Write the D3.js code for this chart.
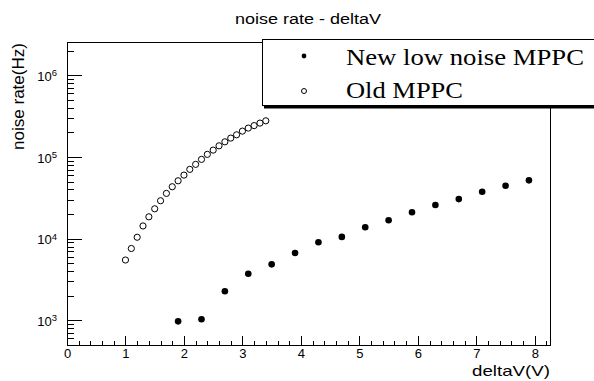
<!DOCTYPE html>
<html>
<head>
<meta charset="utf-8">
<script src="https://cdn.jsdelivr.net/npm/d3@7"></script>
<style>
  html, body { margin: 0; padding: 0; background: #fff; }
  svg { display: block; font-family: "Liberation Sans", Arial, sans-serif; }
  .axis path, .axis line { stroke: #000; stroke-width: 1; shape-rendering: crispEdges; }
  .axis text { font-size: 13px; fill: #000; }
</style>
</head>
<body>
<div id="chart"></div>
<script>
// New low noise MPPC (filled markers)
const newDeltaV = [1.9, 2.3, 2.7, 3.1, 3.5, 3.9, 4.3, 4.7, 5.1, 5.5, 5.9, 6.3, 6.7, 7.1, 7.5, 7.9];
const newRate = [970, 1030, 2270, 3720, 4840, 6660, 9020, 10500, 13800, 16800, 21000, 25800, 30500, 37500, 44400, 51700];

// Old MPPC (open markers)
const oldDeltaV = [1.0, 1.1, 1.2, 1.3, 1.4, 1.5, 1.6, 1.7, 1.8, 1.9, 2.0, 2.1, 2.2, 2.3, 2.4, 2.5, 2.6, 2.7, 2.8, 2.9, 3.0, 3.1, 3.2, 3.3, 3.4];
const oldRate = [5470, 7570, 10400, 14300, 18500, 23200, 29100, 35800, 43200, 51100, 60000, 70500, 81200, 93500,
  107700, 121400, 137000, 153400, 170300, 186900, 207400, 225900, 242300, 260000, 277300];

const xTicks = [0, 1, 2, 3, 4, 5, 6, 7, 8];
const yTickExponents = [3, 4, 5, 6];
const legendLabels = ['New low noise MPPC', 'Old MPPC'];

const W = 594, H = 381;
const frame = { left: 67, top: 42, right: 550, bottom: 345 };

const svg = d3.select('#chart').append('svg')
  .attr('width', W)
  .attr('height', H);

const x = d3.scaleLinear().domain([0, 8.26]).range([frame.left, frame.right]);
const y = d3.scaleLog().domain([498, 2.56e6]).range([frame.bottom, frame.top]);

// frame
svg.append('rect')
  .attr('x', frame.left).attr('y', frame.top)
  .attr('width', frame.right - frame.left).attr('height', frame.bottom - frame.top)
  .attr('fill', 'none').attr('stroke', '#000').attr('stroke-width', 1)
  .attr('shape-rendering', 'crispEdges');

// x axis: majors + minors, ticks pointing inside
const xMinor = d3.range(0, 8.26, 0.2).filter(v => Math.abs(v - Math.round(v)) > 1e-6);
svg.append('g')
  .attr('class', 'axis')
  .attr('transform', `translate(0,${frame.bottom})`)
  .call(d3.axisBottom(x).tickValues(xMinor).tickSizeInner(-4.5).tickSizeOuter(0).tickFormat(''));
const xAxis = svg.append('g')
  .attr('class', 'axis')
  .attr('transform', `translate(0,${frame.bottom})`)
  .call(d3.axisBottom(x).tickValues(xTicks).tickSizeInner(-9).tickSizeOuter(0).tickPadding(0).tickFormat(d3.format('d')));
xAxis.selectAll('text').attr('y', 13).attr('dy', 0).style('font-size', '13px');

// y axis: decades + minors
const yMinor = [];
[2, 3, 4, 5, 6].forEach(e => d3.range(1, 10).forEach(m => {
  const v = m * Math.pow(10, e);
  if (m > 1 && v >= 498 && v <= 2.56e6) yMinor.push(v);
}));
svg.append('g')
  .attr('class', 'axis')
  .attr('transform', `translate(${frame.left},0)`)
  .call(d3.axisLeft(y).tickValues(yMinor).tickSizeInner(-7).tickSizeOuter(0).tickFormat(''));
const yAxis = svg.append('g')
  .attr('class', 'axis')
  .attr('transform', `translate(${frame.left},0)`)
  .call(d3.axisLeft(y).tickValues(yTickExponents.map(e => Math.pow(10, e))).tickSizeInner(-14.5).tickSizeOuter(0).tickPadding(10));
yAxis.selectAll('text').each(function(d) {
  const t = d3.select(this).text('').attr('dy', '0.4em');
  t.append('tspan').text('10');
  t.append('tspan').attr('dy', '-0.5em').style('font-size', '9.5px').text(Math.round(Math.log10(d)));
});

// titles
svg.append('text')
  .attr('x', 308).attr('y', 24)
  .attr('text-anchor', 'middle')
  .attr('textLength', 146).attr('lengthAdjust', 'spacingAndGlyphs')
  .style('font-size', '15.5px')
  .text('noise rate - deltaV');

svg.append('text')
  .attr('x', 550).attr('y', 376)
  .attr('text-anchor', 'end')
  .attr('textLength', 78).attr('lengthAdjust', 'spacingAndGlyphs')
  .style('font-size', '15px')
  .text('deltaV(V)');

svg.append('text')
  .attr('transform', 'translate(23.5,43) rotate(-90)')
  .attr('text-anchor', 'end')
  .attr('textLength', 107).attr('lengthAdjust', 'spacingAndGlyphs')
  .style('font-size', '16px')
  .text('noise rate(Hz)');

// markers
const plot = svg.append('g');
plot.selectAll('circle.old')
  .data(oldDeltaV.map((v, i) => [v, oldRate[i]]))
  .join('circle')
  .attr('class', 'old')
  .attr('cx', d => x(d[0])).attr('cy', d => y(d[1]))
  .attr('r', 3.1)
  .attr('fill', '#fff').attr('stroke', '#000').attr('stroke-width', 1);

plot.selectAll('circle.new')
  .data(newDeltaV.map((v, i) => [v, newRate[i]]))
  .join('circle')
  .attr('class', 'new')
  .attr('cx', d => x(d[0])).attr('cy', d => y(d[1]))
  .attr('r', 3.3)
  .attr('fill', '#000');

// legend with shadow
const legend = svg.append('g');
legend.append('rect')
  .attr('x', 264).attr('y', 41).attr('width', 340).attr('height', 67.5)
  .attr('fill', '#000');
legend.append('rect')
  .attr('x', 262).attr('y', 39).attr('width', 340).attr('height', 66.5)
  .attr('fill', '#fff').attr('stroke', '#000').attr('stroke-width', 1)
  .attr('shape-rendering', 'crispEdges');

const rows = [
  { label: legendLabels[0], my: 56, ty: 65, filled: true, len: 238 },
  { label: legendLabels[1], my: 91, ty: 98, filled: false, len: 117 }
];
rows.forEach(r => {
  legend.append('circle')
    .attr('cx', 304).attr('cy', r.my).attr('r', r.filled ? 2.4 : 2.5)
    .attr('fill', r.filled ? '#000' : '#fff')
    .attr('stroke', r.filled ? 'none' : '#000').attr('stroke-width', 1);
  legend.append('text')
    .attr('x', 346).attr('y', r.ty)
    .attr('textLength', r.len).attr('lengthAdjust', 'spacingAndGlyphs')
    .style('font-family', '"Liberation Serif", "Times New Roman", serif')
    .style('font-size', '24px')
    .text(r.label);
});
</script>
</body>
</html>
